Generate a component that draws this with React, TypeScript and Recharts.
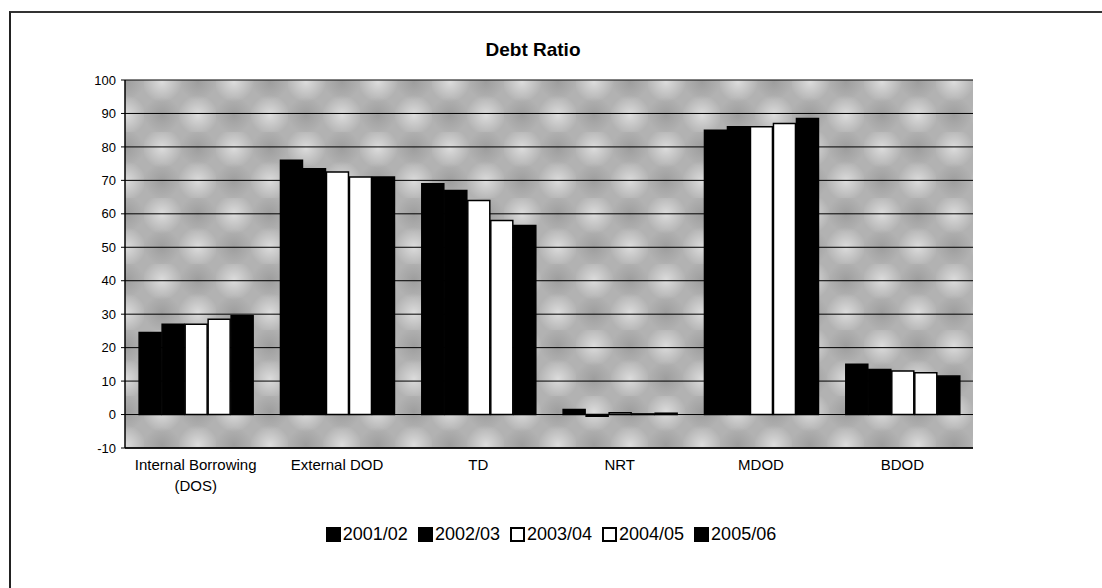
import React from "react";
import {
  BarChart,
  Bar,
  XAxis,
  YAxis,
  CartesianGrid,
} from "recharts";

const categories = [
  "Internal Borrowing (DOS)",
  "External DOD",
  "TD",
  "NRT",
  "MDOD",
  "BDOD",
];

const years = ["2001/02", "2002/03", "2003/04", "2004/05", "2005/06"];
const yearFills = ["#000", "#000", "#fff", "#fff", "#000"];

const v2001 = [24.5, 76, 69, 1.5, 85, 15];
const v2002 = [27, 73.5, 67, -0.5, 86, 13.5];
const v2003 = [27, 72.5, 64, 0.5, 86, 13];
const v2004 = [28.5, 71, 58, 0.2, 87, 12.5];
const v2005 = [29.5, 71, 56.5, 0.4, 88.5, 11.5];

const yTicks = [-10, 0, 10, 20, 30, 40, 50, 60, 70, 80, 90, 100];

const series = [v2001, v2002, v2003, v2004, v2005];

const data = categories.map((name, i) => {
  const row: Record<string, string | number> = { name };
  years.forEach((y, j) => {
    row[y] = series[j][i];
  });
  return row;
});

const font = "'Liberation Sans', Arial, sans-serif";

const CategoryTick = (props: any) => {
  const { x, y, payload } = props;
  const label: string = payload.value;
  const idx = label.indexOf(" (");
  const lines = idx > 0 ? [label.slice(0, idx), label.slice(idx + 1)] : [label];
  return (
    <text
      x={x}
      y={y}
      textAnchor="middle"
      fill="#000"
      fontSize={15}
      fontFamily={font}
    >
      {lines.map((l, i) => (
        <tspan key={i} x={x} dy={i === 0 ? 14 : 21}>
          {l}
        </tspan>
      ))}
    </text>
  );
};

export default function App() {
  return (
    <div
      style={{
        position: "absolute",
        left: 0,
        top: 0,
        width: 1102,
        height: 588,
        background: "#fff",
        overflow: "hidden",
        fontFamily: font,
      }}
    >
      <div
        style={{
          position: "absolute",
          left: 9,
          top: 11,
          width: 1200,
          height: 700,
          borderLeft: "2px solid #222",
          borderTop: "2px solid #333",
        }}
      />
      <div
        style={{
          position: "absolute",
          left: 433,
          top: 39,
          width: 200,
          textAlign: "center",
          fontWeight: "bold",
          fontSize: 19,
          color: "#000",
        }}
      >
        Debt Ratio
      </div>
      <BarChart
        width={1102}
        height={588}
        data={data}
        margin={{ top: 80, right: 129, left: 85, bottom: 100 }}
        barCategoryGap="10%"
        barGap={1}
        style={{ position: "absolute", left: 0, top: 0 }}
      >
        <defs>
          <radialGradient id="spot">
            <stop offset="0%" stopColor="#fff" stopOpacity={0.55} />
            <stop offset="100%" stopColor="#fff" stopOpacity={0} />
          </radialGradient>
          <radialGradient id="shade">
            <stop offset="0%" stopColor="#777" stopOpacity={0.35} />
            <stop offset="100%" stopColor="#777" stopOpacity={0} />
          </radialGradient>
          <pattern
            id="mottle"
            x="0"
            y="0"
            width="72"
            height="66"
            patternUnits="userSpaceOnUse"
          >
            <rect width="72" height="66" fill="#b2b2b2" />
            <circle cx="18" cy="16" r="20" fill="url(#spot)" />
            <circle cx="54" cy="49" r="20" fill="url(#spot)" />
            <circle cx="54" cy="16" r="18" fill="url(#shade)" />
            <circle cx="18" cy="49" r="18" fill="url(#shade)" />
          </pattern>
        </defs>
        <CartesianGrid
          vertical={false}
          stroke="#000"
          strokeOpacity={1}
          fill="url(#mottle)"
          fillOpacity={1}
        />
        <XAxis
          dataKey="name"
          height={40}
          tickLine={false}
          axisLine={{ stroke: "#000", strokeWidth: 1.5 }}
          tick={<CategoryTick />}
          interval={0}
        />
        <YAxis
          domain={[-10, 100]}
          ticks={yTicks}
          width={40}
          tickSize={4}
          tickMargin={5}
          axisLine={{ stroke: "#000", strokeWidth: 1.5 }}
          tickLine={{ stroke: "#000" }}
          tick={{ fill: "#000", fontSize: 13, fontFamily: font }}
        />
        <YAxis
          yAxisId="right"
          orientation="right"
          domain={[-10, 100]}
          width={0}
          tick={false}
          tickLine={false}
          axisLine={{ stroke: "#000", strokeWidth: 1.5 }}
        />
        {years.map((y, j) => (
          <Bar
            key={y}
            dataKey={y}
            fill={yearFills[j]}
            stroke="#000"
            strokeWidth={1.5}
            isAnimationActive={false}
          />
        ))}
      </BarChart>
      <div
        style={{
          position: "absolute",
          left: 0,
          top: 524,
          width: 1102,
          display: "flex",
          justifyContent: "center",
          fontSize: 18,
          color: "#000",
        }}
      >
        {years.map((y, j) => (
          <div
            key={y}
            style={{ display: "flex", alignItems: "center", marginRight: j < years.length - 1 ? 10 : 0 }}
          >
            <span
              style={{
                display: "inline-block",
                width: 11,
                height: 11,
                border: "2px solid #000",
                background: yearFills[j],
                marginRight: 2,
              }}
            />
            <span>{y}</span>
          </div>
        ))}
      </div>
    </div>
  );
}
